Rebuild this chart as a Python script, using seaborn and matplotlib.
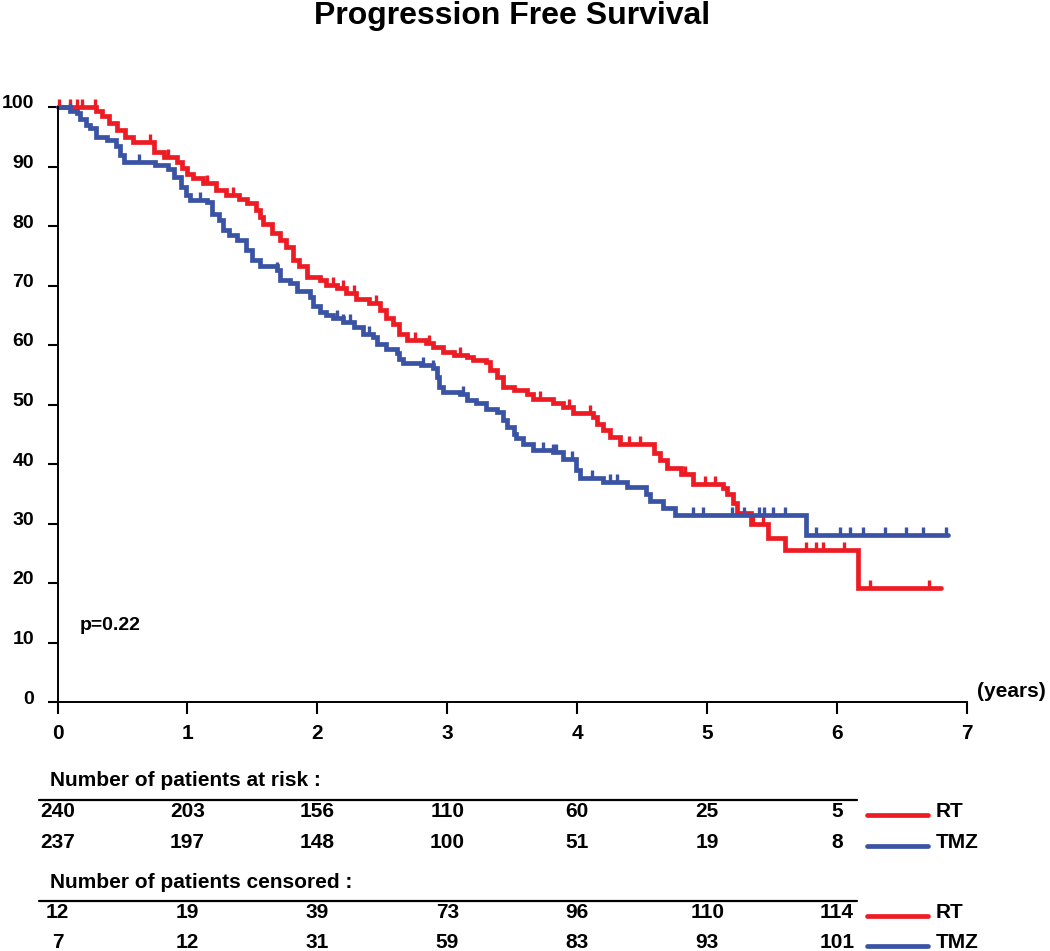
import numpy as np
import pandas as pd
import matplotlib
matplotlib.use("Agg")
import matplotlib.pyplot as plt
import matplotlib.transforms as mtransforms
from matplotlib.lines import Line2D
import seaborn as sns

# ---------------- data ----------------
rt_times = [0, 0.30, 0.34, 0.40, 0.455, 0.52, 0.58, 0.74, 0.82, 0.92, 0.96, 1.00, 1.04, 1.12,
            1.22, 1.30, 1.40, 1.46, 1.53, 1.56, 1.58, 1.65, 1.71, 1.76, 1.81, 1.86, 1.92, 2.02,
            2.07, 2.15, 2.22, 2.30, 2.40, 2.48, 2.53, 2.58, 2.63, 2.69, 2.84, 2.89, 2.97, 3.05,
            3.15, 3.20, 3.30, 3.33, 3.38, 3.43, 3.51, 3.61, 3.66, 3.81, 3.89, 3.97, 4.12, 4.15,
            4.20, 4.25, 4.33, 4.59, 4.64, 4.69, 4.80, 4.89, 5.12, 5.15, 5.20, 5.23, 5.34, 5.47,
            5.60, 6.16]
rt_surv = [100, 99.3, 98.5, 97.3, 96.1, 95.0, 94.2, 92.5, 91.6, 90.8, 89.7, 88.8, 88.0, 87.2,
           86.1, 85.2, 84.5, 83.8, 82.7, 81.5, 80.4, 78.8, 77.6, 76.5, 74.3, 73.2, 71.5, 71.0,
           70.1, 69.5, 68.7, 67.8, 67.0, 65.9, 64.5, 63.6, 61.9, 60.8, 60.3, 59.7, 58.9, 58.3,
           58.0, 57.5, 57.2, 55.8, 54.7, 53.0, 52.4, 51.8, 51.0, 50.2, 49.6, 48.5, 47.9, 46.8,
           45.7, 44.6, 43.3, 41.8, 40.7, 39.3, 38.4, 36.7, 36.0, 35.0, 33.4, 31.7, 30.0, 27.5,
           25.5, 19.1]
rt_end = 6.80
rt_censor = [0.01, 0.10, 0.15, 0.19, 0.29, 0.71, 0.85, 1.15, 1.35, 2.12, 2.20, 2.28, 2.45,
             2.75, 2.86, 3.10, 3.71, 3.94, 4.10, 4.40, 4.48, 4.69, 4.83, 4.98, 5.06, 5.35,
             5.43, 5.76, 5.84, 5.89, 6.05, 6.25, 6.71]

tmz_times = [0, 0.10, 0.15, 0.17, 0.22, 0.25, 0.30, 0.38, 0.45, 0.48, 0.51, 0.75, 0.85, 0.90,
             0.95, 0.99, 1.02, 1.15, 1.19, 1.24, 1.27, 1.32, 1.38, 1.45, 1.50, 1.56, 1.69, 1.71,
             1.79, 1.84, 1.94, 1.97, 2.02, 2.07, 2.12, 2.20, 2.28, 2.35, 2.43, 2.46, 2.53, 2.61,
             2.63, 2.66, 2.80, 2.89, 2.92, 2.94, 2.97, 3.10, 3.15, 3.22, 3.30, 3.38, 3.43, 3.46,
             3.51, 3.53, 3.58, 3.66, 3.81, 3.89, 3.99, 4.02, 4.20, 4.38, 4.53, 4.56, 4.66, 4.75,
             5.76]
tmz_surv = [100, 99.4, 99.0, 98.0, 97.0, 96.4, 95.0, 94.5, 93.5, 92.0, 90.8, 90.3, 89.5, 88.3,
            86.6, 85.2, 84.4, 84.0, 82.1, 81.0, 79.3, 78.5, 77.6, 75.9, 74.3, 73.2, 72.6, 71.0,
            70.4, 69.0, 68.0, 66.6, 65.5, 65.0, 64.5, 63.9, 63.1, 61.9, 61.4, 60.2, 59.4, 58.6,
            57.7, 56.9, 56.6, 56.1, 54.7, 53.0, 52.1, 51.8, 50.7, 50.2, 49.3, 48.8, 47.4, 46.2,
            45.1, 44.3, 43.4, 42.3, 42.0, 40.8, 39.0, 37.6, 37.0, 36.2, 35.0, 33.7, 32.6, 31.4,
            28.0]
tmz_end = 6.85
tmz_censor = [0.10, 0.63, 1.10, 1.69, 2.15, 2.20, 2.25, 2.40, 2.81, 2.89, 3.12, 3.74, 3.81,
              3.84, 3.96, 4.11, 4.25, 4.31, 4.89, 4.97, 5.19, 5.28, 5.40, 5.44, 5.51, 5.60,
              5.84, 6.02, 6.10, 6.20, 6.37, 6.53, 6.66, 6.84]

years = [0, 1, 2, 3, 4, 5, 6, 7]
yticks = [0, 10, 20, 30, 40, 50, 60, 70, 80, 90, 100]
at_risk_rt = [240, 203, 156, 110, 60, 25, 5]
at_risk_tmz = [237, 197, 148, 100, 51, 19, 8]
censored_rt = [12, 19, 39, 73, 96, 110, 114]
censored_tmz = [7, 12, 31, 59, 83, 93, 101]
groups = ["RT", "TMZ"]
colors = {"RT": "#ED1C24", "TMZ": "#3A53A4"}

# ---------------- style ----------------
sns.set_style("white")
plt.rcParams.update({
    "font.family": ["Liberation Sans", "DejaVu Sans"],
    "font.weight": "bold",
    "text.color": "black",
    "xtick.color": "black",
    "ytick.color": "black",
    "xtick.bottom": True,
    "ytick.left": True,
    "xtick.direction": "out",
    "ytick.direction": "out",
    "xtick.major.size": 8.5,
    "ytick.major.size": 7,
    "xtick.major.width": 1.5,
    "ytick.major.width": 1.5,
})

W, H = 1050, 951
fig = plt.figure(figsize=(W / 100, H / 100), dpi=100)
ax_left, ax_right, ax_bot, ax_top = 57.5, 967, 702, 107
ax = fig.add_axes([ax_left / W, 1 - ax_bot / H, (ax_right - ax_left) / W, (ax_bot - ax_top) / H])


def step_frame(times, surv, end):
    return pd.DataFrame({"t": list(times) + [end], "s": list(surv) + [surv[-1]]})


def surv_at(times, surv, t):
    idx = np.searchsorted(np.asarray(times), t, side="right") - 1
    return np.asarray(surv)[idx]


for name, times, surv, end, cens in [("RT", rt_times, rt_surv, rt_end, rt_censor),
                                     ("TMZ", tmz_times, tmz_surv, tmz_end, tmz_censor)]:
    df = step_frame(times, surv, end)
    sns.lineplot(data=df, x="t", y="s", ax=ax, color=colors[name], lw=3.4,
                 drawstyle="steps-post", estimator=None, sort=False, clip_on=False,
                 solid_joinstyle="miter")
    cs = surv_at(times, surv, np.asarray(cens))
    ax.plot(cens, cs, ls="none", marker=2, ms=6, mew=2.4, color=colors[name], clip_on=False)

ax.set_xlim(0, 7)
ax.set_ylim(0, 100)
ax.set_xlabel("")
ax.set_ylabel("")
ax.set_xticks(years)
ax.set_yticks(yticks)
ax.set_xticklabels([str(v) for v in years], fontsize=15, fontweight="bold")
ax.set_yticklabels([str(v) for v in yticks], fontsize=14, fontweight="bold")
for s in ["top", "right"]:
    ax.spines[s].set_visible(False)
for s in ["left", "bottom"]:
    ax.spines[s].set_visible(True)
    ax.spines[s].set_color("black")
    ax.spines[s].set_linewidth(1.4)
ax.xaxis.set_tick_params(which="major", bottom=True, direction="out", length=8.5, width=1.5,
                         pad=7, color="black")
ax.yaxis.set_tick_params(which="major", left=True, direction="out", length=7, width=1.5,
                         pad=10, color="black")
off = mtransforms.ScaledTranslation(0, 5 / 100, fig.dpi_scale_trans)
for lab in ax.get_yticklabels():
    lab.set_transform(lab.get_transform() + off)

ax.text(7.08, 1.7, "(years)", fontsize=15, fontweight="bold", ha="left", va="center", clip_on=False)
ax.text(0.17, 12.9, "p=0.22", fontsize=14, fontweight="bold", ha="left", va="center")

fig.text((ax_left + ax_right) / 2 / W, 1 - 1 / H, "Progression Free Survival", fontsize=23,
         fontweight="bold", ha="center", va="top")

# ---------------- tables ----------------
bt = mtransforms.blended_transform_factory(ax.transData, fig.transFigure)


def fy(py):
    return 1 - py / H


def table(header, header_y, line_y, rows):
    fig.text(50 / W, fy(header_y), header, fontsize=15, fontweight="bold", ha="left", va="center")
    fig.add_artist(Line2D([39 / W, 857 / W], [fy(line_y), fy(line_y)], color="black", lw=1.6))
    for (vals, name, ry) in rows:
        for x, v in zip(years[:-1], vals):
            fig.text(x, fy(ry), str(v), transform=bt, fontsize=15, fontweight="bold",
                     ha="center", va="center")
        fig.add_artist(Line2D([867 / W, 928 / W], [fy(ry + 3), fy(ry + 3)], color=colors[name], lw=3.4))
        fig.text(936 / W, fy(ry), name, fontsize=15, fontweight="bold", ha="left", va="center")


table("Number of patients at risk :", 781, 800,
      [(at_risk_rt, "RT", 811.5), (at_risk_tmz, "TMZ", 843)])
table("Number of patients censored :", 883, 901,
      [(censored_rt, "RT", 912.5), (censored_tmz, "TMZ", 943)])

fig.savefig("out.png", dpi=100)
